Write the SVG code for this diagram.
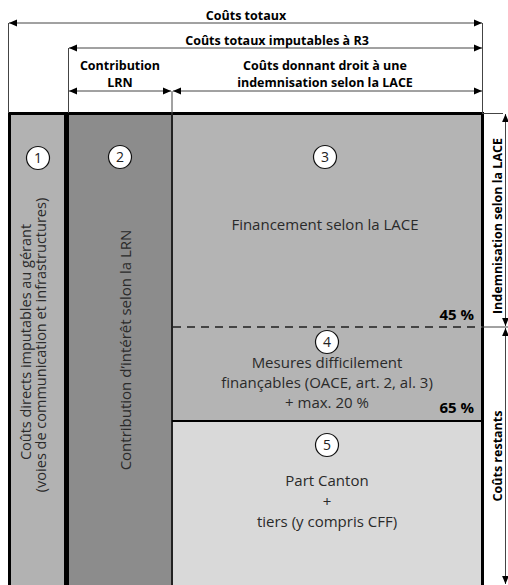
<svg xmlns="http://www.w3.org/2000/svg" width="508" height="585" viewBox="0 0 508 585">
<defs>
<marker id="ah" viewBox="0 0 8 8" refX="8" refY="4" markerWidth="8" markerHeight="8" markerUnits="userSpaceOnUse" orient="auto-start-reverse">
<path d="M0,0.6 L8,4 L0,7.4 Z" fill="#000"/>
</marker>
<style>
.t{font-family:"Open Sans","Noto Sans","DejaVu Sans",sans-serif;fill:#2a2a2a;text-anchor:middle}
.b{font-family:"Open Sans","Noto Sans","DejaVu Sans",sans-serif;font-weight:bold;fill:#000;text-anchor:middle;font-size:12.5px}
.p{font-family:"Open Sans","Noto Sans","DejaVu Sans",sans-serif;font-weight:bold;fill:#000;text-anchor:end;font-size:15px}
.dim{stroke:#444;stroke-width:1;fill:none}
.arr{stroke:#444;stroke-width:1;fill:none;marker-start:url(#ah);marker-end:url(#ah)}
.num{fill:#fff;stroke:#111;stroke-width:1.2}
.nt{font-family:"Open Sans","Noto Sans","DejaVu Sans",sans-serif;fill:#222;text-anchor:middle;font-size:14px}
</style>
</defs>
<rect width="508" height="585" fill="#fff"/>

<g id="col1">
<rect x="9" y="113" width="56" height="472" fill="#b2b2b2"/>
<circle class="num" cx="38" cy="158" r="11.5"/>
<text class="nt" x="38" y="163">1</text>
<text class="t" font-size="14.5" transform="translate(31,342) rotate(-90)">Coûts directs imputables au gérant</text>
<text class="t" font-size="14.5" transform="translate(45.5,345) rotate(-90)">(voies de communication et infrastructures)</text>
</g>

<g id="col2">
<rect x="68" y="113" width="104" height="472" fill="#8c8c8c"/>
<circle class="num" cx="120" cy="157" r="11.5"/>
<text class="nt" x="120" y="162">2</text>
<text class="t" font-size="15" transform="translate(131,350) rotate(-90)">Contribution d’intérêt selon la LRN</text>
</g>

<g id="box3">
<rect x="172" y="113" width="310" height="214" fill="#b4b4b4"/>
<circle class="num" cx="325" cy="157" r="11.5"/>
<text class="nt" x="325" y="162">3</text>
<text class="t" font-size="15" x="325" y="230">Financement selon la LACE</text>
<text class="p" x="474" y="320">45 %</text>
</g>

<g id="box4">
<rect x="172" y="327" width="310" height="94" fill="#b4b4b4"/>
<circle class="num" cx="327" cy="342" r="11.5"/>
<text class="nt" x="327" y="347">4</text>
<text class="t" font-size="15" x="327" y="368">Mesures difficilement</text>
<text class="t" font-size="15" x="327" y="388">finançables (OACE, art. 2, al. 3)</text>
<text class="t" font-size="15" x="327" y="408">+ max. 20 %</text>
<text class="p" x="474" y="413">65 %</text>
</g>

<g id="box5">
<rect x="172" y="421" width="310" height="164" fill="#d9d9d9"/>
<circle class="num" cx="327" cy="445" r="11.5"/>
<text class="nt" x="327" y="450">5</text>
<text class="t" font-size="15" x="327" y="486">Part Canton</text>
<text class="t" font-size="15" x="327" y="507">+</text>
<text class="t" font-size="15" x="327" y="527">tiers (y compris CFF)</text>
</g>

<g id="frame" fill="none" stroke="#000">
<line x1="8" y1="113.5" x2="484" y2="113.5" stroke-width="3"/>
<line x1="9.5" y1="112" x2="9.5" y2="585" stroke-width="3"/>
<line x1="482.5" y1="112" x2="482.5" y2="585" stroke-width="3"/>
<line x1="66.5" y1="112" x2="66.5" y2="585" stroke-width="5"/>
<line x1="172" y1="112" x2="172" y2="585" stroke-width="2" stroke="#222"/>
<line x1="172" y1="421" x2="482" y2="421" stroke-width="2"/>
<line x1="173" y1="327" x2="482" y2="327" stroke-width="2" stroke="#444" stroke-dasharray="8,6"/>
</g>

<g id="connectors">
<line class="dim" x1="8.5" y1="23" x2="8.5" y2="113"/>
<line class="dim" x1="68.5" y1="48" x2="68.5" y2="113"/>
<line class="dim" x1="172" y1="91" x2="172" y2="113"/>
<line class="dim" x1="482.5" y1="23" x2="482.5" y2="113"/>
<line class="dim" x1="482" y1="113.5" x2="503" y2="113.5"/>
<line class="dim" x1="482" y1="327" x2="508" y2="327"/>
<line class="arr" x1="9" y1="23" x2="482" y2="23"/>
<line class="arr" x1="69" y1="48" x2="482" y2="48"/>
<line class="arr" x1="69" y1="91" x2="171" y2="91"/>
<line class="arr" x1="173" y1="91" x2="482" y2="91"/>
<line class="arr" x1="505.5" y1="114" x2="505.5" y2="326"/>
<line class="arr" x1="505.5" y1="328" x2="505.5" y2="584"/>
</g>

<g id="labels">
<text class="b" x="246" y="19.5">Coûts totaux</text>
<text class="b" x="277" y="44.5">Coûts totaux imputables à R3</text>
<text class="b" x="120" y="69.5">Contribution</text>
<text class="b" x="120" y="87">LRN</text>
<text class="b" x="325" y="69.5">Coûts donnant droit à une</text>
<text class="b" x="325" y="87">indemnisation selon la LACE</text>
<text class="b" font-size="13" transform="translate(501.5,226) rotate(-90)">Indemnisation selon la LACE</text>
<text class="b" font-size="12.3" transform="translate(501.5,456) rotate(-90)">Coûts restants</text>
</g>
</svg>
